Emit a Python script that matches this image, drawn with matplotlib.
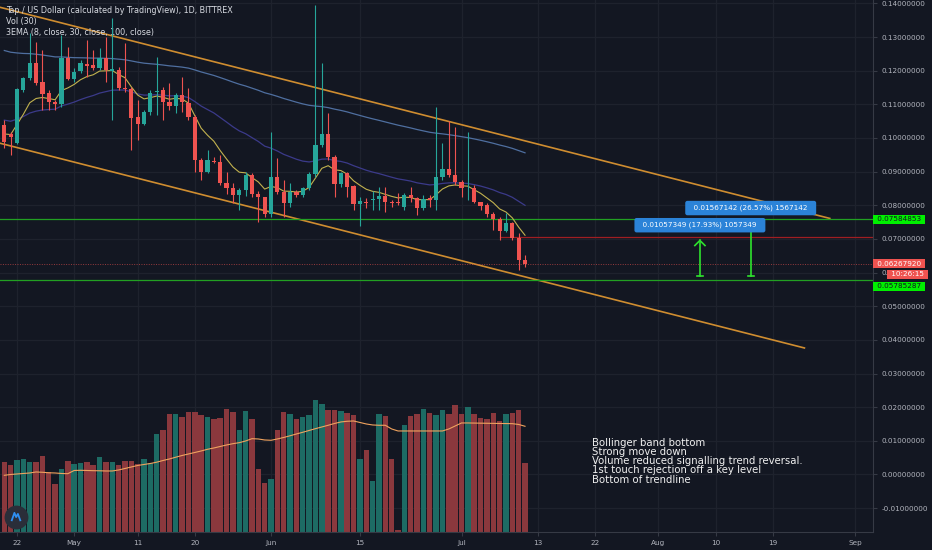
import numpy as np
import pandas as pd
import matplotlib
matplotlib.use("Agg")
import matplotlib.pyplot as plt
import matplotlib.dates as mdates

BG = "#131722"
GRID = "#1e222d"
AXIS = "#363a45"
TXT = "#b2b5be"
UP = "#26a69a"
DOWN = "#ef5350"
VOL_UP = "#1d6b64"
VOL_DOWN = "#8a383d"

plt.rcParams['font.family'] = ['DejaVu Sans']

# daily candles, TAP/USD
dates = pd.date_range("2020-04-20", "2020-07-11", freq="D")

opens = [0.1039, 0.1012, 0.0986, 0.1143, 0.1177, 0.1224, 0.1167, 0.1133, 0.1106, 0.1101,
         0.1237, 0.1176, 0.1199, 0.1219, 0.1217, 0.1207, 0.1237, 0.1200, 0.1202, 0.1150,
         0.1145, 0.1061, 0.1042, 0.1076, 0.1137, 0.1143, 0.1108, 0.1095, 0.1128, 0.1103,
         0.1061, 0.0935, 0.0900, 0.0933, 0.0930, 0.0865, 0.0852, 0.0831, 0.0844, 0.0890,
         0.0834, 0.0824, 0.0774, 0.0883, 0.0840, 0.0806, 0.0840, 0.0831, 0.0850, 0.0893,
         0.0979, 0.1011, 0.0945, 0.0863, 0.0895, 0.0857, 0.0804, 0.0811, 0.0816, 0.0818,
         0.0828, 0.0811, 0.0811, 0.0796, 0.0831, 0.0821, 0.0793, 0.0821, 0.0816, 0.0883,
         0.0908, 0.0890, 0.0870, 0.0850, 0.0852, 0.0809, 0.0801, 0.0774, 0.0759, 0.0724,
         0.0748, 0.0702, 0.0638]
highs = [0.1054, 0.1019, 0.1148, 0.1182, 0.1311, 0.1286, 0.1262, 0.1143, 0.1113, 0.1306,
         0.1271, 0.1207, 0.1232, 0.1291, 0.1262, 0.1266, 0.1301, 0.1356, 0.1212, 0.1281,
         0.1153, 0.1113, 0.1083, 0.1143, 0.1242, 0.1151, 0.1162, 0.1133, 0.1182, 0.1148,
         0.1068, 0.0940, 0.0964, 0.0945, 0.0950, 0.0900, 0.0865, 0.0850, 0.0900, 0.0895,
         0.0841, 0.0826, 0.1019, 0.0940, 0.0875, 0.0865, 0.0845, 0.0855, 0.0900, 0.1395,
         0.1222, 0.1073, 0.0950, 0.0900, 0.0900, 0.0860, 0.0826, 0.0821, 0.0841, 0.0855,
         0.0855, 0.0816, 0.0836, 0.0836, 0.0855, 0.0826, 0.0831, 0.0831, 0.1093, 0.0984,
         0.1051, 0.1034, 0.0875, 0.1019, 0.0860, 0.0811, 0.0806, 0.0781, 0.0766, 0.0776,
         0.0751, 0.0717, 0.0652]
lows = [0.0969, 0.0950, 0.0982, 0.1138, 0.1172, 0.1157, 0.1083, 0.1083, 0.1083, 0.1093,
        0.1172, 0.1167, 0.1194, 0.1182, 0.1202, 0.1202, 0.1167, 0.1053, 0.1143, 0.1138,
        0.0964, 0.0994, 0.1039, 0.1068, 0.1068, 0.1053, 0.1083, 0.1073, 0.1078, 0.1053,
        0.0900, 0.0875, 0.0895, 0.0925, 0.0860, 0.0835, 0.0806, 0.0786, 0.0828, 0.0826,
        0.0751, 0.0766, 0.0766, 0.0835, 0.0766, 0.0796, 0.0826, 0.0826, 0.0845, 0.0885,
        0.0974, 0.0935, 0.0826, 0.0855, 0.0826, 0.0786, 0.0737, 0.0791, 0.0786, 0.0786,
        0.0781, 0.0796, 0.0801, 0.0786, 0.0811, 0.0771, 0.0786, 0.0796, 0.0786, 0.0875,
        0.0885, 0.0860, 0.0826, 0.0816, 0.0806, 0.0786, 0.0766, 0.0727, 0.0697, 0.0722,
        0.0697, 0.0608, 0.0618]
closes = [0.0989, 0.1004, 0.1145, 0.1177, 0.1224, 0.1162, 0.1131, 0.1106, 0.1101, 0.1237,
          0.1176, 0.1196, 0.1222, 0.1215, 0.1207, 0.1237, 0.1202, 0.1204, 0.1148, 0.1145,
          0.1058, 0.1042, 0.1076, 0.1133, 0.1141, 0.1108, 0.1095, 0.1128, 0.1108, 0.1061,
          0.0935, 0.0900, 0.0935, 0.0928, 0.0865, 0.0850, 0.0831, 0.0844, 0.0890, 0.0833,
          0.0824, 0.0774, 0.0883, 0.0840, 0.0806, 0.0840, 0.0831, 0.0850, 0.0893, 0.0979,
          0.1011, 0.0945, 0.0863, 0.0895, 0.0855, 0.0804, 0.0813, 0.0806, 0.0820, 0.0828,
          0.0811, 0.0806, 0.0806, 0.0831, 0.0821, 0.0793, 0.0818, 0.0816, 0.0883, 0.0908,
          0.0890, 0.0870, 0.0850, 0.0852, 0.0809, 0.0799, 0.0773, 0.0759, 0.0724, 0.0748,
          0.0702, 0.0638, 0.0627]
volume_k = [70, 66.7, 71.7, 73.3, 70, 70, 75.7, 60, 47.7, 63.3,
            71, 68.3, 69, 70, 66.7, 75, 70, 70, 66.7, 71,
            70.7, 68.3, 73.3, 69, 97.7, 102.3, 118.3, 118.3, 115, 120,
            120, 116.7, 115, 113.3, 114.3, 123.3, 120, 101.7, 121, 113.3,
            63.3, 49, 53.3, 102.3, 120, 117.7, 113.3, 115, 116.7, 132.3,
            127.7, 121.7, 121.7, 121, 119, 116.7, 73.3, 81.7, 51, 117.7,
            115.7, 73.3, 1.7, 107.3, 115.7, 117.7, 123.3, 119, 116.7, 121.7,
            118.3, 126.7, 118.3, 125, 118.3, 114.3, 113.3, 119, 111, 117.7,
            119, 122.3, 69]
vol_ma30 = [56.7, 57.5, 58, 58.5, 59, 60, 59.7, 59.2, 59, 58.5,
            58.3, 61.5, 61.7, 61.5, 61.3, 61.2, 61, 61, 62, 63.5,
            65, 66.5, 67.5, 68.5, 69.8, 71.5, 73, 74.8, 76.5, 78,
            79.5, 81, 82.7, 84, 85.5, 87, 88.3, 89.3, 91, 93.3,
            93, 92, 91.7, 93, 94.5, 96.2, 98, 99.7, 101.5, 103.3,
            105, 106.7, 108.5, 110, 110.7, 111, 109.5, 108, 107, 106.7,
            106.7, 103, 101, 101, 101, 101, 101, 101, 101, 101,
            103, 106, 109, 109, 108.9, 108.8, 108.7, 108.6, 108.5, 108.4,
            108.3, 107.5, 105.7]

# EMA values at the first visible bar
ema8_start = 0.1012
ema30_start = 0.1053
ema100_start = 0.1260

# drawings
upper_trend = (["2020-04-19", "2020-08-28"], [0.1390, 0.0761])
lower_trend = (["2020-04-19", "2020-08-24"], [0.0986, 0.0376])
green_levels = [0.07584853, 0.05785287]
red_level_start = "2020-07-07"
red_level = 0.0706
last_price = 0.0626792
countdown = "10:26:15"
measure_base = 0.05897
measure_dates = ["2020-08-07 13:00", "2020-08-15 13:00"]
measure_moves = [0.01057349, 0.01567142]
measure_labels = ["0.01057349 (17.93%) 1057349", "0.01567142 (26.57%) 1567142"]

tick_dates = ["2020-04-22", "2020-05-01", "2020-05-11", "2020-05-20", "2020-06-01",
              "2020-06-15", "2020-07-01", "2020-07-13", "2020-07-22", "2020-08-01",
              "2020-08-10", "2020-08-19", "2020-09-01"]
tick_labels = ["22", "May", "11", "20", "Jun", "15", "Jul", "13", "22", "Aug", "10", "19", "Sep"]
price_ticks = np.round(np.arange(-0.01, 0.1401, 0.01), 2)

notes = ("Bollinger band bottom\nStrong move down\n"
         "Volume reduced signalling trend reversal.\n"
         "1st touch rejection off a key level\nBottom of trendline")


def ema(values, length, start):
    a = 2.0 / (length + 1)
    out = [start]
    for v in values[1:]:
        out.append(out[-1] + a * (v - out[-1]))
    return out


x = mdates.date2num(dates)
o = np.array(opens)
c = np.array(closes)
is_up = c >= o

fig = plt.figure(figsize=(9.32, 5.5), dpi=100, facecolor=BG)
ax = fig.add_axes([0, 18 / 550, 873 / 932, 532 / 550])
vax = ax.twinx()
ax.set_zorder(vax.get_zorder() + 1)
ax.patch.set_visible(False)
vax.set_facecolor(BG)

x0 = mdates.date2num(pd.Timestamp("2020-04-22"))
ax.set_xlim(x0 - 2.68, x0 + 134.8)
ax.set_ylim(-0.01709, 0.14101)

# grid (under volume)
tick_x = mdates.date2num(pd.to_datetime(tick_dates))
for t in tick_x:
    vax.axvline(t, color=GRID, lw=0.9, zorder=0)
for p in price_ticks:
    vax.plot([0, 1], [p, p], transform=ax.get_yaxis_transform(), color=GRID, lw=0.9, zorder=0)

# volume
vax.bar(x, volume_k, width=0.86, color=np.where(is_up, VOL_UP, VOL_DOWN), zorder=1)
vax.plot(x, vol_ma30, color="#f0a35e", lw=0.8, zorder=2)
vax.set_ylim(0, max(volume_k) * 4.02)
vax.set_yticks([])
for s in vax.spines.values():
    s.set_visible(False)

# trendlines and levels
for line in (upper_trend, lower_trend):
    ax.plot(mdates.date2num(pd.to_datetime(line[0])), line[1], color="#cf8d30", lw=1.2, zorder=2)
for lvl in green_levels:
    ax.axhline(lvl, color="#22a022", lw=0.9, zorder=2)
ax.plot([mdates.date2num(pd.Timestamp(red_level_start)), ax.get_xlim()[1]], [red_level, red_level],
        color="#a01e22", lw=0.9, zorder=2)
ax.axhline(last_price, color=DOWN, lw=0.7, alpha=0.6, ls=(0, (1, 1.5)), zorder=2)

# EMAs
ax.plot(x, ema(closes, 100, ema100_start), color="#4f6fa0", lw=0.9, zorder=3)
ax.plot(x, ema(closes, 30, ema30_start), color="#3b3a8a", lw=0.9, zorder=3)
ax.plot(x, ema(closes, 8, ema8_start), color="#c2b24f", lw=0.8, zorder=3)

# candles
ccol = np.where(is_up, UP, DOWN)
ax.vlines(x, lows, highs, colors=ccol, lw=0.8, zorder=4)
body = np.maximum(np.abs(c - o), 0.00025)
ax.bar(x, body, bottom=np.minimum(o, c), width=0.66, color=ccol, zorder=5)

# measurements
mx = mdates.date2num(pd.to_datetime(measure_dates))
for i, (xx, mv) in enumerate(zip(mx, measure_moves)):
    top = measure_base + mv
    ax.plot([xx, xx], [measure_base, top], color="#2ee22e", lw=1.2, zorder=6)
    ax.plot([xx - 0.5, xx + 0.5], [measure_base, measure_base], color="#2ee22e", lw=1.2, zorder=6)
    ax.plot([xx - 0.8, xx, xx + 0.8], [top - 0.0015, top, top - 0.0015], color="#2ee22e", lw=1.2, zorder=6)
for i in (1, 0):
    ax.annotate("  " + measure_labels[i] + "  ", xy=(mx[i], measure_base + measure_moves[i]),
                xytext=(0, 11), textcoords="offset points", ha="center", va="center",
                fontsize=5.2, color="white", zorder=8 - i,
                bbox=dict(boxstyle="round,pad=0.55,rounding_size=0.3", fc="#2b83d8", ec="none"))

# axes styling
for k in ("top", "left"):
    ax.spines[k].set_visible(False)
ax.spines["right"].set_color(AXIS)
ax.spines["bottom"].set_color(AXIS)
ax.yaxis.tick_right()
ax.set_yticks(price_ticks)
ax.yaxis.set_major_formatter(matplotlib.ticker.FormatStrFormatter("%.8f"))
ax.tick_params(axis="y", colors=AXIS, labelcolor=TXT, labelsize=5.2, length=3, pad=3)
ax.set_xticks(tick_x)
ax.set_xticklabels(tick_labels)
ax.tick_params(axis="x", colors=AXIS, labelcolor=TXT, labelsize=5.2, length=3, pad=3)

# price axis labels
ytr = ax.get_yaxis_transform()
for lvl, dy in zip(green_levels, (0, -4.8)):
    ax.annotate(" %.8f " % lvl, xy=(1, lvl), xycoords=ytr, xytext=(1.5, dy), textcoords="offset points",
                ha="left", va="center", fontsize=5.2, color=BG, annotation_clip=False, zorder=10,
                bbox=dict(boxstyle="square,pad=0.22", fc="#00f000", ec="none"))
ax.annotate(" %.8f " % last_price, xy=(1, last_price), xycoords=ytr, xytext=(1.5, 0),
            textcoords="offset points", ha="left", va="center", fontsize=5.2, color="white",
            annotation_clip=False, zorder=10, bbox=dict(boxstyle="square,pad=0.22", fc=DOWN, ec="none"))
ax.annotate(" " + countdown + " ", xy=(1, last_price), xycoords=ytr, xytext=(11.5, -7.6),
            textcoords="offset points", ha="left", va="center", fontsize=5.2, color="white",
            annotation_clip=False, zorder=10, bbox=dict(boxstyle="square,pad=0.22", fc=DOWN, ec="none"))

# legend texts
ax.text(0.007, 0.981, "Tap / US Dollar (calculated by TradingView), 1D, BITTREX", transform=ax.transAxes,
        fontsize=5.8, color="#d8dbe2", va="center")
ax.text(0.007, 0.9605, "Vol (30)", transform=ax.transAxes, fontsize=5.8, color="#d8dbe2", va="center")
ax.text(0.007, 0.939, "3EMA (8, close, 30, close, 100, close)", transform=ax.transAxes,
        fontsize=5.8, color="#d8dbe2", va="center")

ax.text(0.678, 0.177, notes, transform=ax.transAxes, fontsize=7.3, color="#f0f0f0",
        va="top", ha="left", linespacing=0.9, zorder=9)

# logo
ax.scatter([0.0183], [0.028], s=260, color="#2a2e39", transform=ax.transAxes, zorder=9, clip_on=False)
ax.plot([0.0135, 0.0165, 0.0185, 0.0205, 0.0232], [0.022, 0.036, 0.028, 0.034, 0.022],
        color="#2f8ff0", lw=1.3, transform=ax.transAxes, zorder=10)

fig.savefig("out.png", dpi=100, facecolor=BG)
